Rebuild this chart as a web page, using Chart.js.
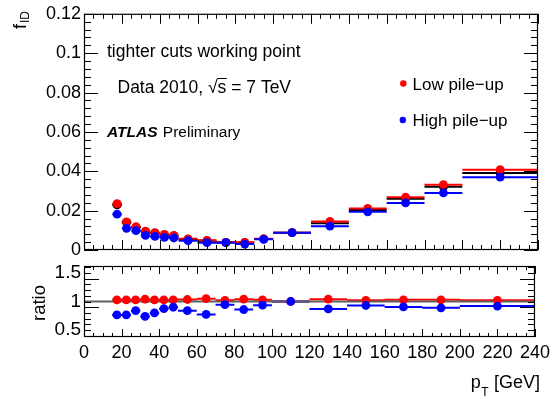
<!DOCTYPE html>
<html><head><meta charset="utf-8">
<script src="https://cdn.jsdelivr.net/npm/chart.js@4.4.1/dist/chart.umd.min.js"></script>
<style>
html,body{margin:0;padding:0;background:#fff;}
#wrap{position:relative;width:555px;height:399px;background:#fff;}
canvas{position:absolute;left:0;top:0;}
</style></head><body>
<div id="wrap"><canvas id="topc" width="555" height="399"></canvas><canvas id="botc" width="555" height="399"></canvas></div>
<script>
// ---- data ----
const binLow  = [15,20,25,30,35,40,45,50,60,70,80,90,100,120,140,160,180,200];
const binHigh = [20,25,30,35,40,45,50,60,70,80,90,100,120,140,160,180,200,240];
const ptCenter = [17.5,22.5,27.5,32.5,37.5,42.5,47.5,55,65,75,85,95,110,130,150,170,190,220];
const fidLowPU  = [0.0236,0.0143,0.0118,0.0096,0.0088,0.0079,0.0074,0.0057,0.0049,0.0039,0.0039,0.0057,0.0088,0.0145,0.0211,0.0268,0.0332,0.0408];
const fidHighPU = [0.0182,0.0110,0.0098,0.0074,0.0069,0.0064,0.0061,0.0047,0.0037,0.0037,0.0030,0.0054,0.0088,0.0121,0.0194,0.0239,0.0290,0.0370];
const fidAll    = [0.0229,0.0140,0.0115,0.0093,0.0086,0.0077,0.0072,0.0055,0.0047,0.0039,0.0038,0.0056,0.0088,0.0136,0.0203,0.0261,0.0321,0.0391];
const ratioLowPU  = [1.03,1.03,1.03,1.04,1.03,1.03,1.03,1.035,1.05,1.02,1.04,1.03,1.0,1.04,1.02,1.03,1.03,1.02];
const ratioHighPU = [0.765,0.765,0.84,0.74,0.80,0.875,0.90,0.84,0.775,0.945,0.86,0.935,1.0,0.87,0.93,0.905,0.89,0.92];
const ratioRef = [1,1];
const ratioRefX = [0,240];

const fidTicks = [0,0.02,0.04,0.06,0.08,0.1,0.12];
const fidTickLabels = ["0","0.02","0.04","0.06","0.08","0.1","0.12"];
const ratioTicks = [0.5,1,1.5];
const ratioTickLabels = ["0.5","1","1.5"];
const ptTicks = [0,20,40,60,80,100,120,140,160,180,200,220,240];
const ptTickLabels = ["0","20","40","60","80","100","120","140","160","180","200","220","240"];

const RED = '#ff0000', BLUE = '#0000ff', BLACK = '#000000';
const FONT = "'Liberation Sans', Arial, Helvetica, sans-serif";
Chart.defaults.font.family = FONT;
Chart.defaults.color = '#000';

function pts(xs, ys){ return xs.map((x,i)=>({x:x, y:ys[i]})); }
function markerSet(label, ys, color, order){
  return {label, data: pts(ptCenter, ys), backgroundColor: color, borderColor: color,
    pointRadius: 4.4, pointBorderWidth: 0, showLine: false, order, binLo: binLow, binHi: binHigh};
}

// error bars (horizontal bin widths) + frame with inside ticks
const rootFrame = {
  id: 'rootFrame',
  beforeDatasetsDraw(chart){
    const ctx = chart.ctx, xs = chart.scales.x, ys = chart.scales.y;
    const list = chart.data.datasets.map((d,i)=>({d,i})).filter(o=>o.d.binLo)
      .sort((a,b)=>b.d.order-a.d.order);
    ctx.save();
    ctx.beginPath(); ctx.rect(chart.chartArea.left, chart.chartArea.top, chart.chartArea.width, chart.chartArea.height); ctx.clip();
    list.forEach(({d})=>{
      ctx.strokeStyle = d.borderColor; ctx.lineWidth = 2;
      ctx.beginPath();
      d.data.forEach((p,k)=>{
        const y = ys.getPixelForValue(p.y);
        ctx.moveTo(xs.getPixelForValue(d.binLo[k]), y);
        ctx.lineTo(xs.getPixelForValue(d.binHi[k]), y);
      });
      ctx.stroke();
    });
    ctx.restore();
  },
  afterDraw(chart, args, o){
    const ctx = chart.ctx, a = chart.chartArea, xs = chart.scales.x, ys = chart.scales.y;
    ctx.save();
    ctx.strokeStyle = '#000'; ctx.lineWidth = 1;
    ctx.beginPath();
    const hx = (v,len)=>{ const px = Math.round(xs.getPixelForValue(v))+0.5;
      ctx.moveTo(px, a.bottom); ctx.lineTo(px, a.bottom-len);
      ctx.moveTo(px, a.top); ctx.lineTo(px, a.top+len); };
    const vy = (v,len)=>{ const py = Math.round(ys.getPixelForValue(v))+0.5;
      if (py < a.top-0.5 || py > a.bottom+0.5) return;
      ctx.moveTo(a.left, py); ctx.lineTo(a.left+len, py);
      ctx.moveTo(a.right, py); ctx.lineTo(a.right-len, py); };
    for (let k=0; k<=o.xN; k++) { const v = o.x0 + k*o.xStep; hx(v, (k % o.xEvery === 0) ? o.xMaj : o.xMin); }
    for (let k=0; k<=o.yN; k++) { const v = o.y0 + k*o.yStep; vy(v, (k % o.yEvery === 0) ? o.yMaj : o.yMin); }
    ctx.stroke();
    ctx.lineWidth = 1.2;
    ctx.strokeRect(a.left+0.5, a.top+0.5, a.width-1, a.height-1);
    ctx.restore();
    if (o.text) o.text(ctx);
  }
};

function topText(ctx){
  ctx.save();
  ctx.fillStyle = '#000'; ctx.textBaseline = 'alphabetic'; ctx.textAlign = 'left';
  ctx.font = "17.5px " + FONT;
  ctx.fillText("tighter cuts working point", 107, 57);
  // Data 2010, sqrt(s) = 7 TeV
  let x = 117.5; const by = 93;
  const s1 = "Data 2010, ";
  ctx.fillText(s1, x, by); x += ctx.measureText(s1).width;
  ctx.fillText("\u221A", x, by); x += ctx.measureText("\u221A").width;
  const sw = ctx.measureText("s").width;
  ctx.fillText("s", x, by);
  ctx.lineWidth = 1; ctx.strokeStyle = '#000';
  ctx.beginPath(); ctx.moveTo(x-0.5, by-14.5); ctx.lineTo(x+sw+0.5, by-14.5); ctx.stroke();
  x += sw;
  ctx.fillText(" = 7 TeV", x, by);
  // ATLAS Preliminary
  ctx.font = "italic bold 15.5px " + FONT;
  ctx.fillText("ATLAS", 107, 137);
  const aw = ctx.measureText("ATLAS ").width;
  ctx.font = "15.5px " + FONT;
  ctx.fillText("Preliminary", 107 + aw + 1, 137);
  // legend
  ctx.font = "17px " + FONT;
  ctx.fillStyle = RED; ctx.beginPath(); ctx.arc(403.3, 83.5, 3.2, 0, Math.PI*2); ctx.fill();
  ctx.fillStyle = BLUE; ctx.beginPath(); ctx.arc(402.8, 120, 3.2, 0, Math.PI*2); ctx.fill();
  ctx.fillStyle = '#000';
  ctx.fillText("Low pile\u2212up", 412.5, 89.5);
  ctx.fillText("High pile\u2212up", 412.5, 125.5);
  // y title f_ID
  ctx.translate(26, 29); ctx.rotate(-Math.PI/2);
  ctx.font = "18px " + FONT;
  ctx.fillText("f", 0, 0);
  const fw = ctx.measureText("f").width;
  ctx.font = "12px " + FONT;
  ctx.fillText("ID", fw + 1, 3);
  ctx.restore();
}

function botText(ctx){
  ctx.save();
  ctx.fillStyle = '#000'; ctx.textBaseline = 'alphabetic';
  // ratio title
  ctx.save();
  ctx.translate(45, 303); ctx.rotate(-Math.PI/2);
  ctx.textAlign = 'center'; ctx.font = "18.5px " + FONT;
  ctx.fillText("ratio", 0, 0);
  ctx.restore();
  // p_T [GeV]
  ctx.textAlign = 'left';
  ctx.font = "18px " + FONT;
  const rest = " [GeV]";
  const rw = ctx.measureText(rest).width;
  const pw = ctx.measureText("p").width;
  ctx.font = "12px " + FONT;
  const tw = ctx.measureText("T").width;
  let x = 540 - rw - tw - pw - 1;
  ctx.font = "18px " + FONT;
  ctx.fillText("p", x, 388); x += pw + 0.5;
  ctx.font = "12px " + FONT;
  ctx.fillText("T", x, 396); x += tw + 0.5;
  ctx.font = "18px " + FONT;
  ctx.fillText(rest, x, 388);
  ctx.restore();
}

const yTickOpts = (vals, labs, size) => ({
  grid: {display:false, drawTicks:false, tickLength:0},
  border: {display:false},
  afterBuildTicks: s => { s.ticks = vals.map(v=>({value:v})); },
  afterFit: s => { s.width = 84; },
  ticks: {padding: 3, font: {size: size}, color: '#000', autoSkip: false,
    callback: (v, i) => labs[i]}
});

// ---- top panel ----
new Chart(document.getElementById('topc'), {
  type: 'scatter',
  data: { datasets: [
    markerSet('All', fidAll, BLACK, 3),
    markerSet('Low pile-up', fidLowPU, RED, 2),
    markerSet('High pile-up', fidHighPU, BLUE, 1)
  ]},
  options: {
    responsive: false, animation: false, events: [],
    layout: {padding: {left: 0, top: 12, right: 17, bottom: 149}},
    plugins: {legend: {display: false}, tooltip: {enabled: false},
      rootFrame: {x0: 0, xStep: 5, xN: 48, xEvery: 4, xMaj: 10, xMin: 5,
                  y0: 0, yStep: 0.004, yN: 30, yEvery: 5, yMaj: 14, yMin: 7, text: topText}},
    scales: {
      x: {type: 'linear', min: 0, max: 240, display: false},
      y: Object.assign({type: 'linear', min: 0, max: 0.12}, yTickOpts(fidTicks, fidTickLabels, 18))
    }
  },
  plugins: [rootFrame]
});

// ---- ratio panel ----
new Chart(document.getElementById('botc'), {
  type: 'scatter',
  data: { datasets: [
    {label: 'ref', data: pts(ratioRefX, ratioRef), showLine: true, borderColor: '#606060', borderWidth: 2, pointRadius: 0, order: 4},
    markerSet('Low pile-up', ratioLowPU, RED, 2),
    markerSet('High pile-up', ratioHighPU, BLUE, 1)
  ]},
  options: {
    responsive: false, animation: false, events: [],
    layout: {padding: {left: 0, top: 266, right: 17, bottom: 0}},
    plugins: {legend: {display: false}, tooltip: {enabled: false},
      rootFrame: {x0: 0, xStep: 5, xN: 48, xEvery: 4, xMaj: 8, xMin: 4,
                  y0: 0.4, yStep: 0.1, yN: 12, yEvery: 5, yMaj: 15, yMin: 7, text: botText}},
    scales: {
      x: {type: 'linear', min: 0, max: 240,
        grid: {display:false, drawTicks:false, tickLength:0}, border: {display:false},
        afterBuildTicks: s => { s.ticks = ptTicks.map(v=>({value:v})); },
        afterFit: s => { s.height = 62; },
        ticks: {padding: 5, font: {size: 18}, color: '#000', autoSkip: false, maxRotation: 0,
          callback: (v, i) => ptTickLabels[i]}},
      y: Object.assign({type: 'linear', min: 0.38, max: 1.62}, yTickOpts(ratioTicks, ratioTickLabels, 19))
    }
  },
  plugins: [rootFrame]
});
</script>
</body></html>
